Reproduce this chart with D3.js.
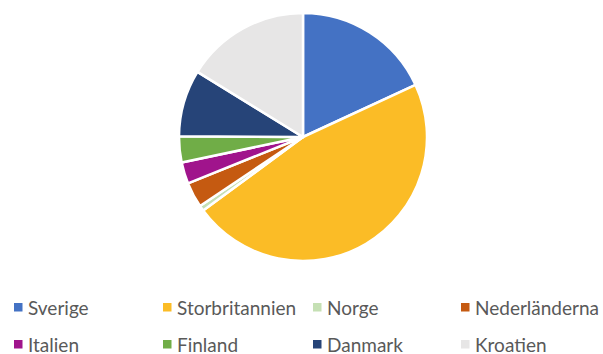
<!DOCTYPE html>
<html>
<head>
<meta charset="utf-8">
<script src="https://cdn.jsdelivr.net/npm/d3@7/dist/d3.min.js"></script>
<style>
  html, body { margin: 0; padding: 0; background: #fff; overflow: hidden; }
  svg { display: block; }
</style>
</head>
<body>
<svg id="chart" width="603" height="354"></svg>
<script>
// Share per country (%)
const countries = ["Sverige", "Storbritannien", "Norge", "Nederländerna", "Italien", "Finland", "Danmark", "Kroatien"];
const shares = [18.1, 46.8, 0.7, 3.3, 2.8, 3.4, 8.7, 16.2];
const colors = ["#4472C4", "#FBBC26", "#C5E0B4", "#C55A11", "#A0148C", "#70AD47", "#264478", "#E7E6E6"];

const data = countries.map((c, i) => ({ name: c, value: shares[i], color: colors[i] }));

const svg = d3.select("#chart");
const cx = 303, cy = 137, radius = 124;

const pie = d3.pie().sort(null).value(d => d.value).startAngle(0).endAngle(2 * Math.PI);
const arc = d3.arc().innerRadius(0).outerRadius(radius);

svg.append("g")
  .attr("transform", `translate(${cx},${cy})`)
  .selectAll("path")
  .data(pie(data))
  .join("path")
  .attr("d", arc)
  .attr("fill", d => d.data.color)
  .attr("stroke", "#fff")
  .attr("stroke-width", 2.5)
  .attr("stroke-linejoin", "round");

// Legend: 4 columns, 2 rows (y = text baseline)
const colX = [14, 163, 313, 461];
const rowY = [315, 352];
const legend = svg.append("g").attr("class", "legend");
const items = legend.selectAll("g")
  .data(data)
  .join("g")
  .attr("transform", (d, i) => `translate(${colX[i % 4]},${rowY[Math.floor(i / 4)]})`);

items.append("rect")
  .attr("x", 0).attr("y", -12)
  .attr("width", 8.5).attr("height", 8.5)
  .attr("fill", d => d.color);

items.append("text")
  .attr("x", 14)
  .attr("y", 0)
  .attr("font-family", "Lato, 'Open Sans', sans-serif")
  .attr("font-size", 19)
  .attr("fill", "#595959")
  .text(d => d.name);
</script>
</body>
</html>
